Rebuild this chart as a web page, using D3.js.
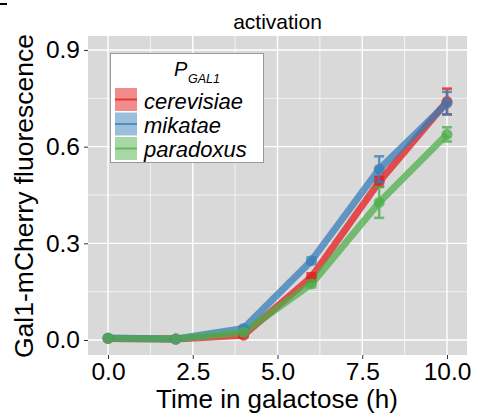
<!DOCTYPE html>
<html>
<head>
<meta charset="utf-8">
<script src="https://cdn.jsdelivr.net/npm/d3@7"></script>
<style>
  body { margin: 0; background: #fff; }
  svg { font-family: "Liberation Sans", Arial, sans-serif; }
</style>
</head>
<body>
<div id="chart"></div>
<script>
// Data
const hours = [0, 2, 4, 6, 8, 10];
const cerevisiae = [0.005, 0.003, 0.015, 0.195, 0.491, 0.740];
const cerevisiaeErr = [0.004, 0.003, 0.006, 0.012, 0.015, 0.04];
const mikatae = [0.006, 0.003, 0.036, 0.246, 0.530, 0.735];
const mikataeErr = [0.004, 0.003, 0.006, 0.010, 0.040, 0.035];
const paradoxus = [0.005, 0.003, 0.024, 0.174, 0.427, 0.638];
const paradoxusErr = [0.004, 0.003, 0.006, 0.010, 0.048, 0.022];
const seriesNames = ["cerevisiae", "mikatae", "paradoxus"];
const seriesColors = ["#E41A1C", "#377EB8", "#4DAF4A"];
const xTicks = [0, 2.5, 5, 7.5, 10];
const yTicks = [0, 0.3, 0.6, 0.9];

const width = 477, height = 416;
const panel = { left: 88, right: 467, top: 36, bottom: 355 };

const series = [
    { name: "cerevisiae", values: cerevisiae, err: cerevisiaeErr },
    { name: "mikatae", values: mikatae, err: mikataeErr },
    { name: "paradoxus", values: paradoxus, err: paradoxusErr }
];
const color = d3.scaleOrdinal().domain(seriesNames).range(seriesColors);

const x = d3.scaleLinear().domain([-0.59, 10.59]).range([panel.left, panel.right]);
const y = d3.scaleLinear().domain([-0.0465, 0.9433]).range([panel.bottom, panel.top]);

const svg = d3.select("#chart").append("svg")
    .attr("width", width)
    .attr("height", height);

// stray clipped mark at top left
svg.append("rect").attr("x", 0).attr("y", 3).attr("width", 7).attr("height", 2).attr("fill", "#000");

// Panel background
svg.append("rect")
    .attr("x", panel.left).attr("y", panel.top)
    .attr("width", panel.right - panel.left)
    .attr("height", panel.bottom - panel.top)
    .attr("fill", "#D9D9D9");

// Grid lines
const grid = svg.append("g").attr("stroke", "#fff");
const xMinor = [1.25, 3.75, 6.25, 8.75];
const yMinor = [0.15, 0.45, 0.75];
grid.selectAll(".xminor").data(xMinor).join("line")
    .attr("x1", d => x(d)).attr("x2", d => x(d))
    .attr("y1", panel.top).attr("y2", panel.bottom)
    .attr("stroke-width", 0.7);
grid.selectAll(".yminor").data(yMinor).join("line")
    .attr("y1", d => y(d)).attr("y2", d => y(d))
    .attr("x1", panel.left).attr("x2", panel.right)
    .attr("stroke-width", 0.7);
grid.selectAll(".xmajor").data(xTicks).join("line")
    .attr("x1", d => x(d)).attr("x2", d => x(d))
    .attr("y1", panel.top).attr("y2", panel.bottom)
    .attr("stroke-width", 1.4);
grid.selectAll(".ymajor").data(yTicks).join("line")
    .attr("y1", d => y(d)).attr("y2", d => y(d))
    .attr("x1", panel.left).attr("x2", panel.right)
    .attr("stroke-width", 1.4);

// Axes
const xAxis = svg.append("g")
    .attr("transform", `translate(0,${panel.bottom})`)
    .call(d3.axisBottom(x).tickValues(xTicks).tickFormat(d3.format(".1f")).tickSize(4).tickPadding(4));
const yAxis = svg.append("g")
    .attr("transform", `translate(${panel.left},0)`)
    .call(d3.axisLeft(y).tickValues(yTicks).tickFormat(d3.format(".1f")).tickSize(4).tickPadding(4));
[xAxis, yAxis].forEach(a => {
    a.select(".domain").remove();
    a.selectAll(".tick line").attr("stroke", "#333").attr("stroke-width", 1);
    a.selectAll(".tick text").attr("fill", "#000").style("font-size", "24.5px");
});

// Lines
const line = d3.line().x((d, i) => x(hours[i])).y(d => y(d));
const gLines = svg.append("g");
series.forEach(s => {
    gLines.append("path")
        .datum(s.values)
        .attr("d", line)
        .attr("fill", "none")
        .attr("stroke", color(s.name))
        .attr("stroke-width", 7)
        .attr("stroke-opacity", 0.75)
        .attr("stroke-linejoin", "round");
});

// Error bars and points
series.forEach(s => {
    const g = svg.append("g")
        .attr("stroke", color(s.name))
        .attr("fill", color(s.name))
        .attr("opacity", 0.78);
    s.values.forEach((v, i) => {
        const cx = x(hours[i]);
        g.append("line")
            .attr("x1", cx).attr("x2", cx)
            .attr("y1", y(v - s.err[i])).attr("y2", y(v + s.err[i]))
            .attr("stroke-width", 2.5);
        [v - s.err[i], v + s.err[i]].forEach(e => {
            g.append("line")
                .attr("x1", cx - 5).attr("x2", cx + 5)
                .attr("y1", y(e)).attr("y2", y(e))
                .attr("stroke-width", 2.5);
        });
        g.append("circle")
            .attr("cx", cx).attr("cy", y(v))
            .attr("r", 5.5)
            .attr("stroke", "none");
    });
});

// Title
svg.append("text")
    .attr("x", (panel.left + panel.right) / 2)
    .attr("y", 29)
    .attr("text-anchor", "middle")
    .style("font-size", "21px")
    .text("activation");

// Axis titles
svg.append("text")
    .attr("x", 277)
    .attr("y", 408)
    .attr("text-anchor", "middle")
    .style("font-size", "26px")
    .text("Time in galactose (h)");

svg.append("text")
    .attr("transform", `translate(33,196) rotate(-90)`)
    .attr("text-anchor", "middle")
    .style("font-size", "26.5px")
    .text("Gal1-mCherry fluorescence");

// Legend
const legend = svg.append("g");
legend.append("rect")
    .attr("x", 110.5).attr("y", 53.5)
    .attr("width", 153).attr("height", 109)
    .attr("fill", "#fff")
    .attr("stroke", "#999")
    .attr("stroke-width", 1);

legend.append("text")
    .attr("x", 174).attr("y", 76)
    .style("font-size", "20px")
    .style("font-style", "italic")
    .text("P");
legend.append("text")
    .attr("x", 188).attr("y", 83)
    .style("font-size", "12.5px")
    .style("font-style", "italic")
    .text("GAL1");

seriesNames.forEach((name, i) => {
    const top = 88 + i * 24.5;
    legend.append("rect")
        .attr("x", 115).attr("y", top)
        .attr("width", 22).attr("height", 23)
        .attr("fill", color(name))
        .attr("fill-opacity", 0.5);
    legend.append("line")
        .attr("x1", 115).attr("x2", 137)
        .attr("y1", top + 11.5).attr("y2", top + 11.5)
        .attr("stroke", color(name))
        .attr("stroke-width", 2)
        .attr("stroke-opacity", 0.75);
    legend.append("text")
        .attr("x", 144).attr("y", 109 + i * 24)
        .style("font-size", "22px")
        .style("font-style", "italic")
        .text(name);
});
</script>
</body>
</html>
